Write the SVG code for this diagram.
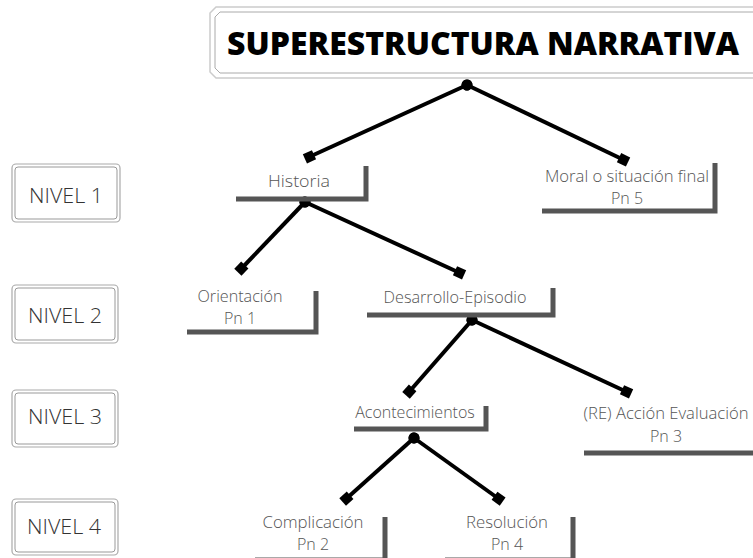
<svg xmlns="http://www.w3.org/2000/svg" width="753" height="558" viewBox="0 0 753 558">
<style>
.lbl{font-family:"Open Sans","Noto Sans","Liberation Sans",sans-serif;font-size:16px;font-weight:300;fill:#555;text-anchor:middle}
.lvl{font-family:"Open Sans","Noto Sans","Liberation Sans",sans-serif;font-size:20px;font-weight:300;fill:#333;text-anchor:middle}
.bar{stroke:#555;stroke-width:5;fill:none}
.con{stroke:#000;stroke-width:4;fill:none;marker-start:url(#dot);marker-end:url(#sq)}
.bo{fill:#fff;stroke:#aaa;stroke-width:1.2}
.bi{fill:none;stroke:#999;stroke-width:1}
</style>
<defs>
<marker id="sq" viewBox="-7 -7 14 14" markerWidth="14" markerHeight="14" markerUnits="userSpaceOnUse" orient="auto" refX="0" refY="0">
<rect x="-5.5" y="-5" width="10" height="10" fill="#000"/>
</marker>
<marker id="dot" viewBox="-7 -7 14 14" markerWidth="14" markerHeight="14" markerUnits="userSpaceOnUse" orient="auto" refX="0" refY="0">
<circle r="5.5" fill="#000"/>
</marker>
</defs>
<rect width="753" height="558" fill="#fff"/>

<g id="title">
<polygon points="216,7 760,7 760,78 216,78 210,72 210,13" fill="#fff" stroke="#ccc" stroke-width="1.5"/>
<polygon points="220,12 760,12 760,73 220,73 215,68 215,17" fill="none" stroke="#aaa" stroke-width="1"/>
<text x="227" y="55" font-family="'Open Sans','Noto Sans','Liberation Sans',sans-serif" font-size="31" font-weight="800" fill="#000" textLength="512" lengthAdjust="spacingAndGlyphs">SUPERESTRUCTURA NARRATIVA</text>
</g>

<g id="nivel1">
<rect class="bo" x="12" y="164" width="108" height="58" rx="4"/>
<rect class="bi" x="15" y="167" width="102" height="52" rx="3"/>
<text class="lvl" x="66" y="203" textLength="74" lengthAdjust="spacingAndGlyphs">NIVEL 1</text>
</g>
<g id="nivel2">
<rect class="bo" x="12" y="285" width="106" height="58" rx="4"/>
<rect class="bi" x="15" y="288" width="100" height="52" rx="3"/>
<text class="lvl" x="65" y="323" textLength="74" lengthAdjust="spacingAndGlyphs">NIVEL 2</text>
</g>
<g id="nivel3">
<rect class="bo" x="12" y="390" width="106" height="57" rx="4"/>
<rect class="bi" x="15" y="393" width="100" height="51" rx="3"/>
<text class="lvl" x="65" y="424" textLength="74" lengthAdjust="spacingAndGlyphs">NIVEL 3</text>
</g>
<g id="nivel4">
<rect class="bo" x="12" y="499" width="106" height="56" rx="4"/>
<rect class="bi" x="15" y="502" width="100" height="50" rx="3"/>
<text class="lvl" x="64" y="534" textLength="74" lengthAdjust="spacingAndGlyphs">NIVEL 4</text>
</g>

<g id="connectors">
<line class="con" x1="467" y1="85" x2="309" y2="157"/>
<line class="con" x1="467" y1="85" x2="624" y2="160"/>
<line class="con" x1="305" y1="202" x2="241" y2="269"/>
<line class="con" x1="305" y1="202" x2="460" y2="273"/>
<line class="con" x1="472" y1="320" x2="409" y2="392"/>
<line class="con" x1="472" y1="320" x2="627" y2="392"/>
<line class="con" x1="414" y1="438" x2="346" y2="499"/>
<line class="con" x1="414" y1="438" x2="499" y2="499"/>
</g>

<g id="historia">
<polyline class="bar" points="236,199 366,199 366,166"/>
<text class="lbl" x="299" y="187" font-size="17" textLength="62" lengthAdjust="spacingAndGlyphs">Historia</text>
</g>
<g id="moral">
<polyline class="bar" points="542,211 715,211 715,163"/>
<text class="lbl" x="627" y="182" textLength="164" lengthAdjust="spacingAndGlyphs">Moral o situación final</text>
<text class="lbl" x="627" y="204">Pn 5</text>
</g>
<g id="orientacion">
<polyline class="bar" points="187,332 316,332 316,291"/>
<text class="lbl" x="240" y="302" textLength="85" lengthAdjust="spacingAndGlyphs">Orientación</text>
<text class="lbl" x="240" y="324">Pn 1</text>
</g>
<g id="desarrollo">
<polyline class="bar" points="367,315 553,315 553,288"/>
<text class="lbl" x="455" y="303" textLength="143" lengthAdjust="spacingAndGlyphs">Desarrollo-Episodio</text>
</g>
<g id="acontecimientos">
<polyline class="bar" points="354,429 486,429 486,406"/>
<text class="lbl" x="415" y="418">Acontecimientos</text>
</g>
<g id="accion">
<line class="bar" x1="584" y1="453" x2="760" y2="453"/>
<text class="lbl" x="666" y="419" font-size="16" textLength="165" lengthAdjust="spacingAndGlyphs">(RE) Acción Evaluación</text>
<text class="lbl" x="666" y="442" font-size="15">Pn 3</text>
</g>
<g id="complicacion">
<polyline class="bar" points="255,560 385,560 385,517"/>
<text class="lbl" x="313" y="528" textLength="101" lengthAdjust="spacingAndGlyphs">Complicación</text>
<text class="lbl" x="313" y="550">Pn 2</text>
</g>
<g id="resolucion">
<polyline class="bar" points="445,560 573,560 573,517"/>
<text class="lbl" x="507" y="528" textLength="82" lengthAdjust="spacingAndGlyphs">Resolución</text>
<text class="lbl" x="507" y="550">Pn 4</text>
</g>
</svg>
